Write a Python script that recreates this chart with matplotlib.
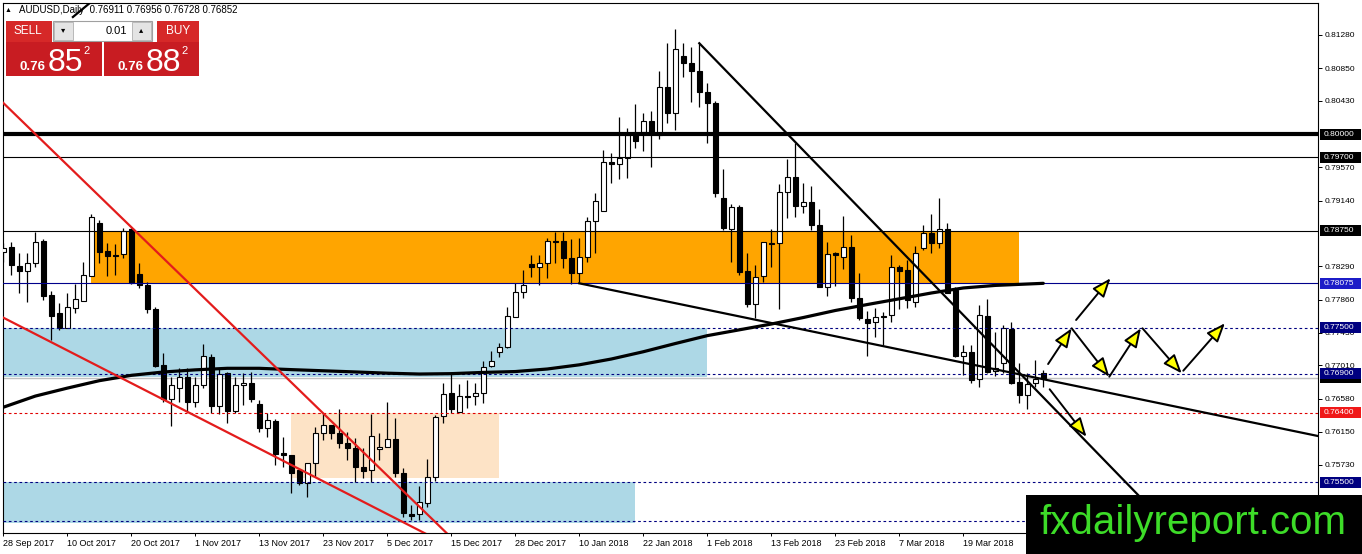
import numpy as np
import matplotlib
matplotlib.use("Agg")
import matplotlib.pyplot as plt
from matplotlib.patches import Rectangle, FancyArrowPatch
from matplotlib.transforms import blended_transform_factory

plt.rcParams['font.family'] = ['Liberation Sans', 'DejaVu Sans']

W, H = 1362, 554

# AUDUSD daily candles, 28 Sep 2017 .. 2 Apr 2018
opens = [0.78472, 0.78544, 0.78295, 0.78234, 0.78334, 0.78622, 0.77920, 0.77687, 0.77497, 0.77752,
         0.77846, 0.78166, 0.78854, 0.78489, 0.78443, 0.78450, 0.78773, 0.78191, 0.78049, 0.77739,
         0.77016, 0.76576, 0.76718, 0.76860, 0.76541, 0.76757, 0.77123, 0.76490, 0.76912, 0.76425,
         0.76757, 0.76787, 0.76512, 0.76205, 0.76296, 0.75874, 0.75853, 0.75659, 0.75487, 0.75753,
         0.76141, 0.76240, 0.76141, 0.76004, 0.75939, 0.75694, 0.75659, 0.75930, 0.75960, 0.76055,
         0.75616, 0.75090, 0.75090, 0.75236, 0.75564, 0.76356, 0.76650, 0.76412, 0.76621, 0.76615,
         0.76650, 0.77003, 0.77180, 0.77252, 0.77640, 0.77955, 0.78317, 0.78278, 0.78330, 0.78618,
         0.78618, 0.78394, 0.78208, 0.78407, 0.78880, 0.79009, 0.79643, 0.79609, 0.79686, 0.79988,
         0.80022, 0.80168, 0.79988, 0.80604, 0.80268, 0.81008, 0.80922, 0.80815, 0.80547, 0.80397,
         0.79170, 0.78769, 0.79061, 0.78230, 0.77800, 0.78166, 0.78595, 0.78588, 0.79255, 0.79441,
         0.79074, 0.79118, 0.78825, 0.78027, 0.78459, 0.78415, 0.78536, 0.77885, 0.77606, 0.77567,
         0.77646, 0.77662, 0.78278, 0.78243, 0.77833, 0.78524, 0.78717, 0.78588, 0.78769, 0.77985,
         0.77136, 0.77180, 0.76831, 0.77649, 0.76942, 0.77045, 0.77477, 0.76796, 0.76628, 0.76779,
         0.76911]
highs = [0.78592, 0.78609, 0.78463, 0.78463, 0.78738, 0.78644, 0.77976, 0.77817, 0.77950, 0.78062,
         0.78350, 0.78967, 0.78889, 0.78592, 0.78579, 0.78786, 0.78786, 0.78334, 0.78092, 0.77769,
         0.77174, 0.76864, 0.76977, 0.76977, 0.76864, 0.77287, 0.77158, 0.76964, 0.76929, 0.76864,
         0.76916, 0.76929, 0.76563, 0.76395, 0.76318, 0.76085, 0.75853, 0.75659, 0.75753, 0.76218,
         0.76395, 0.76240, 0.76447, 0.76150, 0.76068, 0.75939, 0.76382, 0.76133, 0.76541, 0.76327,
         0.75681, 0.75206, 0.75452, 0.75797, 0.76369, 0.76779, 0.76929, 0.76770, 0.76822, 0.76779,
         0.77067, 0.77196, 0.77296, 0.77769, 0.78071, 0.78243, 0.78437, 0.78437, 0.78653, 0.78738,
         0.78738, 0.78640, 0.78653, 0.78932, 0.79242, 0.79794, 0.79751, 0.80224, 0.80074, 0.80384,
         0.80268, 0.80302, 0.80818, 0.81180, 0.81353, 0.81180, 0.81129, 0.81173, 0.80663, 0.80431,
         0.79544, 0.79096, 0.79083, 0.78459, 0.78308, 0.78609, 0.78769, 0.79351, 0.79674, 0.79880,
         0.79363, 0.79332, 0.79027, 0.78601, 0.78480, 0.78941, 0.78695, 0.78200, 0.77717, 0.77748,
         0.77704, 0.78437, 0.78308, 0.78372, 0.78553, 0.78825, 0.78963, 0.79170, 0.78854, 0.78027,
         0.77274, 0.77274, 0.77791, 0.77864, 0.77446, 0.77532, 0.77575, 0.77037, 0.76916, 0.77080,
         0.76956]
lows = [0.78346, 0.78178, 0.77946, 0.77833, 0.78286, 0.77855, 0.77339, 0.77468, 0.77494, 0.77687,
        0.77846, 0.78166, 0.78334, 0.78166, 0.78178, 0.78398, 0.78062, 0.78011, 0.77691, 0.76993,
        0.76541, 0.76227, 0.76541, 0.76412, 0.76477, 0.76718, 0.76395, 0.76382, 0.76266, 0.76395,
        0.76499, 0.76541, 0.76154, 0.76089, 0.75723, 0.75701, 0.75358, 0.75465, 0.75314, 0.75572,
        0.76046, 0.76059, 0.75943, 0.75788, 0.75508, 0.75551, 0.75508, 0.75788, 0.75960, 0.75572,
        0.75055, 0.75013, 0.75013, 0.75184, 0.75520, 0.76270, 0.76391, 0.76412, 0.76456, 0.76499,
        0.76528, 0.76993, 0.77115, 0.77231, 0.77632, 0.77877, 0.78149, 0.78049, 0.78136, 0.78337,
        0.78265, 0.78062, 0.78092, 0.78350, 0.78467, 0.79009, 0.79371, 0.79415, 0.79428, 0.79823,
        0.79785, 0.79570, 0.79932, 0.80139, 0.80052, 0.80741, 0.80418, 0.80346, 0.79880, 0.79190,
        0.78760, 0.78350, 0.78178, 0.77761, 0.77619, 0.78092, 0.78286, 0.77735, 0.78911, 0.78932,
        0.78984, 0.78760, 0.78027, 0.77907, 0.78036, 0.78256, 0.77833, 0.77597, 0.77132, 0.77381,
        0.77274, 0.77575, 0.77735, 0.77748, 0.77769, 0.78502, 0.78467, 0.78524, 0.77942, 0.77123,
        0.76886, 0.76787, 0.76727, 0.76908, 0.76877, 0.76916, 0.76770, 0.76528, 0.76443, 0.76727,
        0.76728]
closes = [0.78531, 0.78308, 0.78234, 0.78337, 0.78605, 0.77907, 0.77649, 0.77497, 0.77765, 0.77868,
          0.78178, 0.78928, 0.78480, 0.78428, 0.78430, 0.78751, 0.78079, 0.78049, 0.77739, 0.77006,
          0.76576, 0.76757, 0.76860, 0.76541, 0.76757, 0.77132, 0.76490, 0.76899, 0.76425, 0.76757,
          0.76787, 0.76576, 0.76205, 0.76305, 0.75865, 0.75853, 0.75624, 0.75491, 0.75753, 0.76141,
          0.76240, 0.76141, 0.76008, 0.75939, 0.75694, 0.75650, 0.76102, 0.75960, 0.76055, 0.75616,
          0.75099, 0.75068, 0.75249, 0.75564, 0.76347, 0.76641, 0.76443, 0.76615, 0.76608, 0.76650,
          0.76993, 0.77071, 0.77252, 0.77652, 0.77955, 0.78049, 0.78278, 0.78330, 0.78618, 0.78611,
          0.78394, 0.78208, 0.78407, 0.78880, 0.79139, 0.79643, 0.79609, 0.79686, 0.79988, 0.79914,
          0.80168, 0.80022, 0.80604, 0.80268, 0.81095, 0.80922, 0.80818, 0.80547, 0.80397, 0.79234,
          0.78782, 0.79061, 0.78221, 0.77800, 0.78149, 0.78609, 0.78582, 0.79247, 0.79441, 0.79074,
          0.79126, 0.78825, 0.78027, 0.78446, 0.78440, 0.78536, 0.77885, 0.77619, 0.77554, 0.77632,
          0.77633, 0.78278, 0.78234, 0.77855, 0.78467, 0.78717, 0.78588, 0.78769, 0.77950, 0.77132,
          0.77180, 0.76822, 0.77662, 0.76929, 0.76981, 0.77490, 0.76787, 0.76628, 0.76770, 0.76831,
          0.76852]

date_ticks = list(range(0, 121, 8))
date_labels = ['28 Sep 2017', '10 Oct 2017', '20 Oct 2017', '1 Nov 2017', '13 Nov 2017',
               '23 Nov 2017', '5 Dec 2017', '15 Dec 2017', '28 Dec 2017', '10 Jan 2018',
               '22 Jan 2018', '1 Feb 2018', '13 Feb 2018', '23 Feb 2018', '7 Mar 2018',
               '19 Mar 2018']

# scale ticks that are not hidden under a level label
price_ticks = [0.8128, 0.8085, 0.8043, 0.7957, 0.7914, 0.7829,
               0.7786, 0.7743, 0.7701, 0.7658, 0.7615, 0.7573, 0.7530]

# moving average every 4 bars
ma_bars = list(range(0, 129, 4)) + [130]
ma_vals = [0.76470, 0.76614, 0.76717, 0.76813, 0.76882, 0.76925, 0.76953, 0.76973, 0.76973,
           0.76956, 0.76941, 0.76926, 0.76910, 0.76899, 0.76904, 0.76920, 0.76931, 0.76964,
           0.77018, 0.77093, 0.77187, 0.77293, 0.77395, 0.77470, 0.77545, 0.77629, 0.77720,
           0.77797, 0.77871, 0.77946, 0.78011, 0.78044, 0.78062, 0.78071]

# horizontal levels: price, line colour, style, width, label box colour
levels = [
    (0.80000, 'black', '-', 3.0, 'black'),
    (0.79700, 'black', '-', 0.8, 'black'),
    (0.78750, 'black', '-', 0.8, 'black'),
    (0.78075, '#00008b', '-', 0.8, '#1c1cc8'),
    (0.77500, '#000080', 'dash', 0.8, '#000080'),
    (0.76900, '#000080', 'dash', 0.8, '#000080'),
    (0.76400, '#e00000', 'dash', 0.8, '#f01818'),
    (0.75500, '#000080', 'dash', 0.8, '#000080'),
    (0.75000, '#000080', 'dash', 0.8, None),
]
bid = 0.76852

# zones: first bar, last bar, low, high, colour
zones = [
    (11, 127, 0.78075, 0.78750, '#ffa500'),
    (-5, 88, 0.76864, 0.77500, '#add8e6'),
    (-5, 79, 0.74975, 0.75500, '#add8e6'),
    (36, 62, 0.75550, 0.76400, '#fde3c6'),
]

# trend lines: anchor 1, anchor 2 (bar, price), colour, drawn from / to bar
trendlines = [
    ((12.5, 0.79148), (43.34, 0.76055), '#e31c1c', -2, 60),
    ((-0.41, 0.77649), (43.34, 0.75336), '#e31c1c', -2, 60),
    ((72.0, 0.78071), (164.34, 0.76098), 'black', 72.0, 170),
    ((87.0, 0.81173), (141.46, 0.75378), 'black', 87.0, 145),
    ((8.7, 0.81512), (10.97, 0.81706), 'black', 8.7, 12),
]

# projected path arrows: start (bar, price), end (bar, price)
arrows = [
    ((130.6, 0.77028), (133.55, 0.77490)),
    ((133.55, 0.77490), (138.25, 0.76864)),
    ((138.25, 0.76864), (142.2, 0.77490)),
    ((142.4, 0.77490), (147.3, 0.76908)),
    ((147.5, 0.76942), (152.7, 0.77555)),
    ((134.1, 0.77597), (138.4, 0.78136)),
    ((130.8, 0.76702), (135.4, 0.76089)),
]

fig = plt.figure(figsize=(W / 100, H / 100), dpi=100)
ax = fig.add_axes([3 / W, 21 / H, 1315 / W, 530 / H])
ymin, ymax = 0.74845, 0.81693
ax.set_xlim(-0.0375, 164.34)
ax.set_ylim(ymin, ymax)

for x0, x1, lo, hi, col in zones:
    ax.add_patch(Rectangle((x0, lo), x1 - x0, hi - lo, fc=col, ec='none', zorder=0.5))

o = np.array(opens); c = np.array(closes)
hi_ = np.array(highs); lo_ = np.array(lows)
x = np.arange(len(o))
up = c >= o
ax.vlines(x, lo_, hi_, color='black', lw=0.9, zorder=3)
ax.bar(x, np.abs(c - o), bottom=np.minimum(o, c), width=0.62,
       color=np.where(up, 'white', 'black'), edgecolor='black', lw=0.8, zorder=3.5)

dash = (0, (2.4, 2.4))
ax.axhline(bid, color='#c0c0c0', lw=1.0, zorder=2)
for p, col, ls, lw, _ in levels:
    ax.axhline(p, color=col, lw=lw, ls=dash if ls == 'dash' else '-', zorder=4)

ax.plot(ma_bars, ma_vals, color='black', lw=2.3, zorder=4.5, solid_capstyle='round')

for (b1, p1), (b2, p2), col, xf, xt in trendlines:
    k = (p2 - p1) / (b2 - b1)
    xs = np.array([xf, xt])
    ax.plot(xs, p1 + k * (xs - b1), color=col, lw=1.6, zorder=5)

for a, b in arrows:
    ax.add_patch(FancyArrowPatch(a, b, arrowstyle='-|>,head_length=1.15,head_width=0.45',
                                 mutation_scale=10, fc='#ffff00', ec='black', lw=1.4,
                                 shrinkA=0, shrinkB=0, zorder=6))

# axes look of the trading terminal
for s in ax.spines.values():
    s.set_color('black'); s.set_linewidth(0.8)
ax.yaxis.tick_right()
ax.set_yticks(price_ticks)
ax.set_yticklabels([f'{v:.5f}' for v in price_ticks])
ax.tick_params(axis='y', direction='out', length=3, width=0.7, pad=2, labelsize=6)
ax.set_xticks(date_ticks)
ax.set_xticklabels(date_labels, ha='left')
ax.tick_params(axis='x', direction='out', length=2.5, width=0.7, pad=2, labelsize=6.5)

# price label boxes on the right scale (bid label sits just under the 0.769 one)
lab_tr = blended_transform_factory(fig.transFigure, ax.transData)
ppx = (ymax - ymin) / 530
boxes = [(bid, 'black')] + [(p, bg) for p, _, _, _, bg in levels if bg]
for i, (p, bg) in enumerate(boxes):
    ax.add_patch(Rectangle((1320 / W, p - 5.5 * ppx), 41 / W, 11 * ppx, transform=lab_tr,
                           fc=bg, ec='none', clip_on=False, zorder=7 + i * 0.01))
    ax.text(1324 / W, p, f'{p:.5f}', transform=lab_tr, ha='left', va='center',
            fontsize=6, color='white', clip_on=False, zorder=7.005 + i * 0.01)


def fbox(x0, y0, x1, y1, **kw):
    fig.add_artist(Rectangle((x0 / W, 1 - y1 / H), (x1 - x0) / W, (y1 - y0) / H,
                             transform=fig.transFigure, zorder=10, **kw))


def ftext(xp, yp, s, **kw):
    fig.text(xp / W, 1 - yp / H, s, zorder=11, **kw)


# header
ftext(8, 10, '▲', fontsize=5, ha='center', va='center', color='black')
ftext(19, 10, 'AUDUSD,Daily  0.76911 0.76956 0.76728 0.76852', fontsize=7,
      ha='left', va='center', color='black')

# one-click trading panel
fbox(6, 21, 52, 42, fc='#d62828', ec='none')
fbox(6, 42, 102, 76, fc='#c81c22', ec='none')
fbox(157, 21, 199, 42, fc='#d62828', ec='none')
fbox(104, 42, 199, 76, fc='#c81c22', ec='none')
fbox(53, 21, 152, 41, fc='white', ec='#a0a0a0', lw=0.8)
fbox(54, 22, 73, 40, fc='#e4e4e4', ec='#b0b0b0', lw=0.6)
fbox(132, 22, 151, 40, fc='#e4e4e4', ec='#b0b0b0', lw=0.6)
fbox(10, 41.5, 49, 42.3, fc='#f29a9a', ec='none')
fbox(160, 41.5, 196, 42.3, fc='#f29a9a', ec='none')
ftext(28, 31.5, 'SELL', fontsize=8.5, ha='center', va='center', color='white')
ftext(178, 31.5, 'BUY', fontsize=8.5, ha='center', va='center', color='white')
ftext(127, 30.5, '0.01', fontsize=8, ha='right', va='center', color='black')
ftext(63.5, 31, '▾', fontsize=6, ha='center', va='center', color='black')
ftext(141.5, 31, '▴', fontsize=6, ha='center', va='center', color='black')
for x0, big in [(20, '85'), (118, '88')]:
    ftext(x0, 70, '0.76', fontsize=9.5, fontweight='bold', ha='left', va='baseline', color='white')
    ftext(x0 + 28, 71, big, fontsize=23, ha='left', va='baseline', color='white')
    ftext(x0 + 63, 46, '2', fontsize=8, ha='left', va='top', color='white')

# watermark
fbox(1026, 495, 1362, 554, fc='black', ec='none')
ftext(1193, 523, 'fxdailyreport.com', fontsize=29, ha='center', va='center', color='#3ddc28')

fig.savefig('out.png', dpi=100)
